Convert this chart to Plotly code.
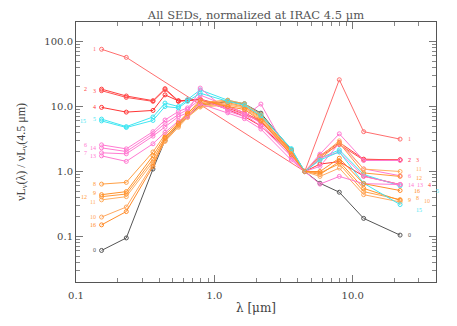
import plotly.graph_objects as go
import math

# ---------------- data ----------------
wavelength = [0.153, 0.231, 0.36, 0.44, 0.55, 0.64, 0.79, 1.25, 1.65, 2.17,
              3.6, 4.5, 5.8, 8.0, 12.0, 22.0]

sed_0 = [0.061, 0.095, 1.09, 3.0, 5.2, 7.0, 10.5, 11.9, 11.0, 7.9, 2.15, 1.0, 0.66, 0.48, 0.19, 0.105]
sed_1 = [76.0, 57.0, None, None, None, None, None, None, None, None, None, 1.0, None, 25.8, 4.1, 3.15]
sed_2 = [18.5, 14.5, 12.3, 18.8, 12.2, 12.6, 13.0, 10.0, 8.0, 6.0, 2.1, 1.0, 1.75, 2.8, 1.55, 1.5]
sed_3 = [17.5, 13.8, 12.0, 18.2, 12.0, 12.4, 12.8, 9.5, 7.6, 5.8, 2.0, 1.0, 1.7, 2.6, 1.5, 1.52]
sed_4 = [9.7, 8.2, 8.7, 15.1, 12.2, 12.4, 12.8, 9.0, 7.0, 5.0, 1.9, 1.0, 1.3, 1.42, 0.85, 0.63]
sed_5 = [6.4, 4.9, 6.9, 11.3, 10.0, 12.7, 18.0, 12.5, 11.0, 7.5, 2.2, 1.0, 1.6, 2.15, 0.9, 0.6]
sed_6 = [2.57, 2.23, 4.1, 6.2, 8.4, 9.5, 15.0, 10.0, 8.0, 5.5, 1.8, 1.0, 1.2, 2.74, 1.1, 0.86]
sed_7 = [1.94, 1.87, 3.5, 4.8, 7.0, 8.0, 19.2, 8.5, 7.0, 10.9, 1.6, 1.0, 1.85, 3.8, 1.48, 1.48]
sed_8 = [0.64, 0.68, 2.0, 3.7, 5.7, 8.0, 11.5, 12.5, 11.0, 7.5, 2.1, 1.0, 0.95, 1.31, 0.49, 0.37]
sed_9 = [0.44, 0.49, 1.75, 3.4, 5.4, 7.5, 11.0, 12.0, 10.5, 7.0, 2.0, 1.0, 0.9, 1.42, 0.55, 0.36]
sed_10 = [0.199, 0.284, 1.3, 2.9, 4.8, 6.8, 9.8, 10.5, 9.5, 6.2, 1.85, 1.0, 0.84, 1.13, 0.44, 0.34]
sed_11 = [0.366, 0.41, 1.4, 3.0, 5.0, 7.0, 10.0, 11.0, 9.8, 6.5, 1.9, 1.0, 1.7, 2.96, 1.09, 1.0]
sed_12 = [0.41, 0.45, 1.55, 3.2, 5.2, 7.2, 10.5, 11.5, 10.0, 6.8, 1.95, 1.0, 1.55, 2.74, 0.95, 0.84]
sed_13 = [1.74, 1.43, 2.67, 4.0, 6.0, 7.0, 11.0, 8.0, 6.5, 4.5, 1.5, 1.0, 0.64, 0.84, 0.65, 0.63]
sed_14 = [2.31, 2.03, 3.8, 5.5, 7.5, 9.0, 13.0, 9.0, 7.5, 5.0, 1.7, 1.0, 1.6, 2.0, 0.84, 0.63]
sed_15 = [6.0, 4.75, 6.1, 10.0, 9.5, 12.0, 16.0, 12.0, 10.5, 7.2, 2.25, 1.0, 1.5, 2.0, 0.66, 0.31]
sed_16 = [0.151, 0.242, 1.2, 3.3, 5.5, 7.8, 12.5, 10.0, 9.0, 6.0, 1.8, 1.0, 1.0, 1.6, 0.65, 0.51]

series_names = [str(i) for i in range(17)]
series_values = [sed_0, sed_1, sed_2, sed_3, sed_4, sed_5, sed_6, sed_7, sed_8,
                 sed_9, sed_10, sed_11, sed_12, sed_13, sed_14, sed_15, sed_16]

x_tick_vals = [0.1, 1.0, 10.0]
x_tick_text = ["0.1", "1.0", "10.0"]
y_tick_vals = [0.1, 1.0, 10.0, 100.0]
y_tick_text = ["0.1", "1.0", "10.0", "100.0"]

# ---------------- styles ----------------
colors = {
    0: "#555555", 1: "#ff6e6e", 2: "#ff4242", 3: "#ff5050", 4: "#ff3535",
    5: "#3fe6f2", 15: "#3fe6f2",
    6: "#ff7ad2", 7: "#ff7ad2", 13: "#ff7ad2", 14: "#ff7ad2",
    8: "#ffa045", 9: "#ff9228", 10: "#ffa860", 11: "#ffb062", 12: "#ff9a3a", 16: "#ff8c2a",
}
# pixel shifts for the side labels (to separate overlapping ones)
left_shift = {2: -9, 15: -10, 6: -9, 7: -9, 12: -9}
left_dy = {9: 2, 11: -2}
right_shift = {3: 8, 12: 8, 13: 9, 4: 20, 5: 28, 8: 8, 10: 16, 15: 8, 11: 8, 16: 6}
right_dy = {15: -5, 5: -5, 9: 0, 8: 2, 10: 1, 11: 3, 12: -2}

fig = go.Figure()
FONT = "Liberation Serif, DejaVu Serif, serif"
WIDE = "DejaVu Serif, Liberation Serif, serif"

for i, vals in enumerate(series_values):
    c = colors[i]
    fig.add_trace(go.Scatter(
        x=wavelength, y=vals, mode="lines+markers", connectgaps=True,
        line=dict(color=c, width=1),
        marker=dict(symbol="circle-open", size=4, color=c, line=dict(width=1)),
        showlegend=False, hoverinfo="skip"))
    # left label
    first = next(k for k, v in enumerate(vals) if v is not None)
    fig.add_annotation(x=math.log10(wavelength[first]), y=math.log10(vals[first]),
                       text=series_names[i], showarrow=False,
                       xanchor="right", yanchor="middle",
                       xshift=-4 + left_shift.get(i, 0), yshift=left_dy.get(i, 0),
                       font=dict(size=6, color=c, family=FONT))
    # right label
    fig.add_annotation(x=math.log10(wavelength[-1]), y=math.log10(vals[-1]),
                       text=series_names[i], showarrow=False,
                       xanchor="left", yanchor="middle",
                       xshift=6 + right_shift.get(i, 0), yshift=right_dy.get(i, 0),
                       font=dict(size=6, color=c, family=FONT))

minor_x = [m * 10 ** d for d in (-1, 0, 1) for m in range(2, 10)]
minor_y = [m * 10 ** d for d in (-2, -1, 0, 1, 2) for m in range(2, 10)]

axis_common = dict(
    type="log", showgrid=False, zeroline=False,
    showline=True, linecolor="#555555", linewidth=1, mirror="ticks",
    ticks="inside", ticklen=7, tickcolor="#777777",
    tickfont=dict(size=10, color="#444444", family=WIDE),
)

fig.update_xaxes(**axis_common, range=[-1, math.log10(40)],
                 tickmode="array", tickvals=x_tick_vals, ticktext=x_tick_text,
                 ticklabelstandoff=4,
                 minor=dict(ticks="inside", ticklen=4, tickcolor="#888888",
                            tickmode="array", tickvals=minor_x),
                 title=dict(text="λ [μm]", font=dict(size=12, color="#444444", family=WIDE),
                            standoff=3))
fig.update_yaxes(**axis_common, range=[-1.7, 2.3],
                 tickmode="array", tickvals=y_tick_vals, ticktext=y_tick_text,
                 minor=dict(ticks="inside", ticklen=4, tickcolor="#888888",
                            tickmode="array", tickvals=minor_y),
                 title=dict(text="νL<sub>ν</sub>(λ) / νL<sub>ν</sub>(4.5 μm)",
                            font=dict(size=12, color="#444444", family=FONT),
                            standoff=16))

# the page body adds an 8px margin, so the figure is sized/offset to compensate
fig.update_layout(
    width=449, height=318,
    margin=dict(l=60, r=21, t=14, b=44),
    paper_bgcolor="white", plot_bgcolor="white",
    title=dict(text="All SEDs, normalized at IRAC 4.5 μm", x=0.5, xanchor="center",
               xref="paper", yref="container", y=0.99, yanchor="top",
               pad=dict(t=0, b=0),
               font=dict(size=11.5, color="#555555", family=WIDE)),
)

fig.write_html("out.html")
